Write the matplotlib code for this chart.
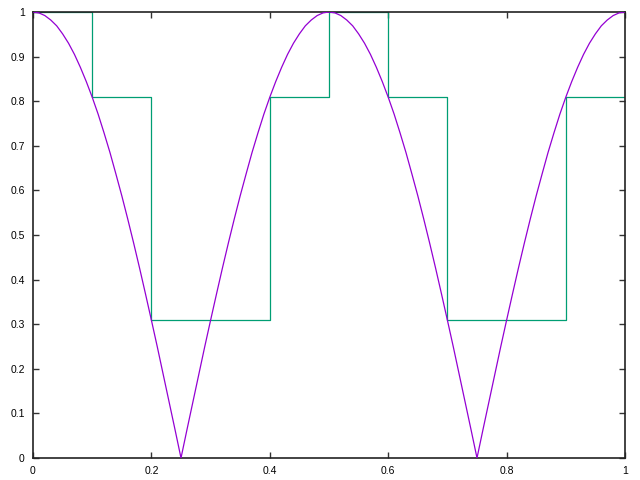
import matplotlib
matplotlib.use("Agg")
import matplotlib.pyplot as plt

# smooth curve, values every 0.01
curve_x = [i / 100 for i in range(101)]
curve_y = [1.000, 0.998, 0.992, 0.982, 0.969, 0.951, 0.930, 0.905, 0.876, 0.844,
           0.809, 0.771, 0.729, 0.685, 0.637, 0.588, 0.536, 0.482, 0.426, 0.368,
           0.309, 0.249, 0.187, 0.125, 0.063, 0.000, 0.063, 0.125, 0.187, 0.249,
           0.309, 0.368, 0.426, 0.482, 0.536, 0.588, 0.637, 0.685, 0.729, 0.771,
           0.809, 0.844, 0.876, 0.905, 0.930, 0.951, 0.969, 0.982, 0.992, 0.998,
           1.000, 0.998, 0.992, 0.982, 0.969, 0.951, 0.930, 0.905, 0.876, 0.844,
           0.809, 0.771, 0.729, 0.685, 0.637, 0.588, 0.536, 0.482, 0.426, 0.368,
           0.309, 0.249, 0.187, 0.125, 0.063, 0.000, 0.063, 0.125, 0.187, 0.249,
           0.309, 0.368, 0.426, 0.482, 0.536, 0.588, 0.637, 0.685, 0.729, 0.771,
           0.809, 0.844, 0.876, 0.905, 0.930, 0.951, 0.969, 0.982, 0.992, 0.998,
           1.000]

# step series
step_x = [0.0, 0.1, 0.2, 0.3, 0.4, 0.5, 0.6, 0.7, 0.8, 0.9, 1.0]
step_y = [1.0, 0.809, 0.309, 0.309, 0.809, 1.0, 0.809, 0.309, 0.309, 0.809, 0.809]

fig = plt.figure(figsize=(6.4, 4.8), dpi=100)
ax = fig.add_axes([33 / 640, 22 / 480, 592 / 640, 446 / 480])
ax.plot(curve_x, curve_y, color="#9400d3", lw=0.9, zorder=3)
ax.step(step_x, step_y, where="post", color="#009e73", lw=0.9, zorder=2)

ax.set_xlim(0, 1)
ax.set_ylim(0, 1)
ax.set_xticks([0, 0.2, 0.4, 0.6, 0.8, 1])
ax.set_xticklabels(["0", "0.2", "0.4", "0.6", "0.8", "1"])
ax.set_yticks([i / 10 for i in range(11)])
ax.set_yticklabels(["0", "0.1", "0.2", "0.3", "0.4", "0.5", "0.6", "0.7", "0.8", "0.9", "1"])
ax.tick_params(direction="in", top=True, right=True, length=4, width=1,
               labelsize=7.5, pad=6, color="#333333")
for lab in ax.get_xticklabels() + ax.get_yticklabels():
    lab.set_family(["Liberation Sans", "DejaVu Sans"])
for s in ax.spines.values():
    s.set_linewidth(1.2)
    s.set_color("#222222")

fig.savefig("out.png", dpi=100)
